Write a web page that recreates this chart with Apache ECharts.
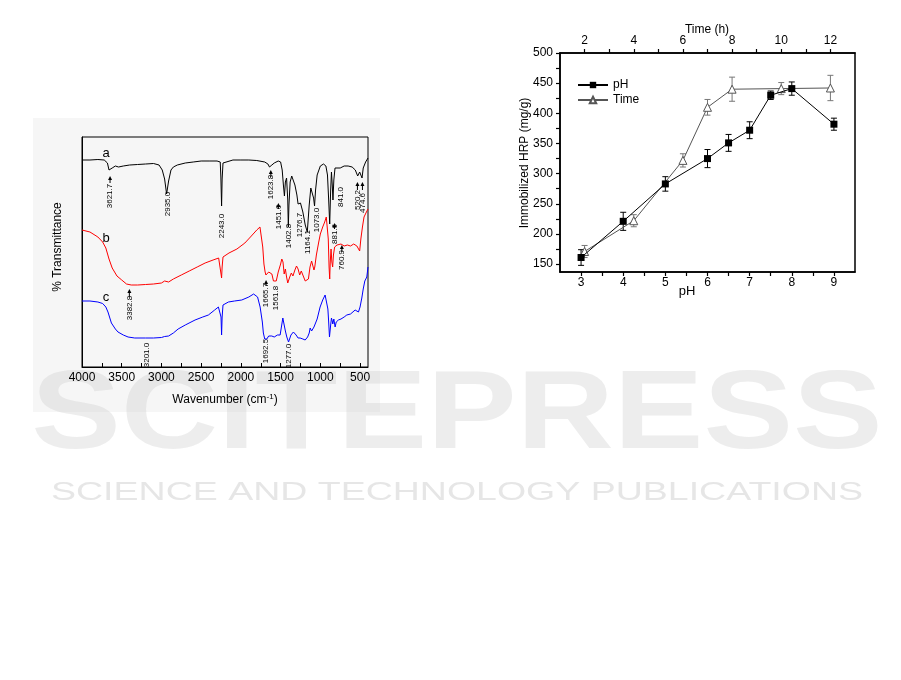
<!DOCTYPE html>
<html><head><meta charset="utf-8">
<script src="https://cdn.jsdelivr.net/npm/echarts@6/dist/echarts.min.js"></script>
<style>html,body{margin:0;padding:0;background:#fff}#c{width:901px;height:680px}</style>
</head><body><div id="c"></div>
<script>
// ---------- FTIR spectra (wavenumber, relative transmittance) ----------
const wnA=[4000,3900,3800,3720,3680,3660,3645,3620,3580,3540,3480,3400,3300,3200,3100,3030,2990,2960,2935,2910,2880,2850,2800,2700,2600,2500,2400,2300,2260,2252,2243,2236,2225,2200,2100,2000,1900,1800,1700,1660,1640,1624,1610,1580,1530,1500,1480,1465,1452,1440,1425,1410,1403,1395,1380,1360,1340,1320,1295,1280,1270,1250,1220,1190,1164,1140,1120,1100,1085,1073,1060,1040,1000,960,930,910,895,882,870,860,850,841,830,815,790,750,700,650,600,560,530,520,505,490,475,460,430,400];
const tA=[207,207,207.5,207,204,197,195,199,201,200,201,202,202.5,203,203.5,202,197,188,173,186,197,200,202,204,205,206,206,206,205,190,161,188,204,206,207,207,207,206.5,205,203,200,198,202,204,206,205,197,182,171,185,189,167,140,162,185,191,190,182,172,163,162,164,155,142,135,162,179,177,169,161,177,192,201,203,201,192,167,143,177,195,182,167,187,199,201,199,201,201,200,197,191,189,195,193,189,199,205,209];
const wnB=[4000,3900,3800,3740,3700,3660,3620,3560,3500,3440,3380,3300,3200,3100,3000,2960,2935,2910,2850,2750,2650,2550,2450,2350,2280,2255,2248,2243,2236,2225,2150,2050,1950,1880,1800,1760,1740,1725,1710,1695,1685,1675,1665,1650,1630,1610,1590,1570,1555,1530,1500,1485,1470,1455,1440,1425,1410,1400,1385,1365,1345,1320,1300,1280,1260,1240,1220,1190,1170,1150,1130,1110,1095,1080,1070,1050,1020,1000,970,945,925,910,900,890,882,875,865,855,845,835,820,800,790,770,740,700,660,620,580,540,520,505,490,470,450,420,400];
const tB=[137,135,130,125,119,108,99,91,87,83,82,82,82.5,83,84,86,84,85,88,92,96,100,104,107,109,108,92,89,100,110,114,118,124,130,137,140,138,120,103,95,92,94,90,95,97,93,86,84,86,95,103,108,105,93,98,90,84,82,90,94,91,97,101,98,92,96,92,86,84,88,100,106,104,97,100,112,125,133,140,145,150,148,128,100,88,105,118,105,100,112,120,118,122,120,123,121,122,121,123,121,119,116,128,140,150,155,158];
const wnC=[4000,3900,3800,3740,3700,3673,3630,3580,3547,3480,3420,3336,3200,3100,3000,2960,2935,2910,2850,2790,2700,2577,2480,2409,2330,2283,2260,2250,2243,2236,2225,2157,2080,1989,1900,1840,1821,1790,1758,1730,1717,1700,1692,1674,1650,1611,1580,1540,1506,1490,1472,1455,1440,1422,1400,1389,1370,1339,1320,1305,1280,1254,1220,1191,1160,1140,1128,1110,1094,1080,1065,1040,1003,970,940,920,905,895,885,877,870,860,850,843,830,814,800,772,740,700,667,620,562,540,520,500,478,460,440,415,400];
const tC=[66,66,65,63.5,60,55,44,38,35,32,30,29,29,29,29.5,30.5,29.5,31,34,38,42,47,50,52,57,60,61,50,32,50,62,65,66,67,70,73,74,70,60,45,34,28,27,28,31,31,30,32,32,40,49,42,36,30,25,26,32,35,34,32,29,29,28,27,30,34,39,36,35,40,42,48,60,67,72,70,58,45,30,29,42,49,46,43,48,40,45,47,48,50,52,53,57,58,55,60,69,78,86,90,100];
const ftirTicks=[4000,3500,3000,2500,2000,1500,1000,500];
const ftirMinor=[3750,3250,2750,2250,1750,1250,750];

// peak annotations
const annText=['3621.7','2935.0','2243.0','1623.8','1451.6','1402.8','1276.7','1164.1','1073.0','841.0','881.6','520.2','474.6','3382.8','1665.7','1561.8','760.9','3201.0','1692.5','1277.0'];
const annWn=[3647,2921,2246,1623,1528,1397,1254,1157,1044,738,822,533,470,3404,1683,1557,729,3185,1683,1397];
const annV=[171,163,141,180,150,131,142,125,147,170,133,167,164,59,72,69,107,12,16,11];
const arrowWn=[3647,1623,1528,822,533,470,3404,1683,729];
const arrowTail=[184,190,158,138,177,177,70,81,115];
const arrowTip=[191,197,164,144,185,185,78,87,122];
const curveNames=['a','b','c'];
const curveNameWn=[3698,3698,3698];
const curveNameV=[214,129,70];

// ---------- Immobilized HRP ----------
const phX=[3,4,5,6,6.5,7,7.5,8,9];
const phY=[161,221,283,325,351,372,430,441,382];
const phErr=[13,15,12,15,14,14,7,11,10];
const timeX=[2,4,6,7,8,10,12];
const timeY=[171,222,322,410,440,441,442];
const timeErr=[10,10,11,13,20,10,21];
const hrpTicks=[150,200,250,300,350,400,450,500];
const hrpTickAll=[150,175,200,225,250,275,300,325,350,375,400,425,450,475,500];
const phTicks=[3,4,5,6,7,8,9];
const phTickAll=[3,3.5,4,4.5,5,5.5,6,6.5,7,7.5,8,8.5,9];
const timeTicks=[2,4,6,8,10,12];
const timeTickAll=[2,3,4,5,6,7,8,9,10,11,12];

const zip=(a,b)=>a.map((v,i)=>[v,b[i]]);
const FONT='Arial';
const plain=v=>String(v);

function errRender(color){
  return function(params,api){
    const x=api.value(0),y=api.value(1),e=api.value(2);
    const hi=api.coord([x,y+e]),lo=api.coord([x,y-e]);
    const w=3, st={stroke:color,lineWidth:1};
    return {type:'group',children:[
      {type:'line',shape:{x1:hi[0],y1:hi[1],x2:lo[0],y2:lo[1]},style:st},
      {type:'line',shape:{x1:hi[0]-w,y1:hi[1],x2:hi[0]+w,y2:hi[1]},style:st},
      {type:'line',shape:{x1:lo[0]-w,y1:lo[1],x2:lo[0]+w,y2:lo[1]},style:st}
    ]};
  };
}

const chart=echarts.init(document.getElementById('c'),null,{renderer:'canvas'});
chart.setOption({
  animation:false,
  backgroundColor:'#fff',
  grid:[
    {left:82,top:137,width:286,height:230,show:true,borderColor:'#000',borderWidth:1,backgroundColor:'transparent',containLabel:false},
    {left:560,top:53,width:295,height:219,show:true,borderColor:'#000',borderWidth:1.5,backgroundColor:'transparent',containLabel:false}
  ],
  xAxis:[
    {gridIndex:0,type:'value',inverse:true,min:400,max:4000,position:'bottom',
     axisLine:{show:true,lineStyle:{color:'#000',width:1}},
     axisTick:{show:true,inside:true,length:4,customValues:ftirTicks.concat(ftirMinor),lineStyle:{color:'#000'}},
     axisLabel:{show:true,customValues:ftirTicks,formatter:plain,fontSize:12,fontFamily:FONT,color:'#000',margin:5},
     splitLine:{show:false}},
    {gridIndex:1,type:'value',min:2.5,max:9.5,position:'bottom',
     axisLine:{show:true,lineStyle:{color:'#000',width:1.5}},
     axisTick:{show:true,inside:false,length:4,customValues:phTickAll,lineStyle:{color:'#000',width:1.2}},
     axisLabel:{show:true,customValues:phTicks,formatter:plain,fontSize:12,fontFamily:FONT,color:'#000',margin:5},
     splitLine:{show:false}},
    {gridIndex:1,type:'value',min:1,max:13,position:'top',
     axisLine:{show:true,lineStyle:{color:'#000',width:1.5}},
     axisTick:{show:true,inside:false,length:4,customValues:timeTickAll,lineStyle:{color:'#000',width:1.2}},
     axisLabel:{show:true,customValues:timeTicks,formatter:plain,fontSize:12,fontFamily:FONT,color:'#000',margin:6},
     splitLine:{show:false}}
  ],
  yAxis:[
    {gridIndex:0,type:'value',min:0,max:230,
     axisLine:{show:true,lineStyle:{color:'#000'}},axisTick:{show:false},axisLabel:{show:false},splitLine:{show:false}},
    {gridIndex:1,type:'value',min:137,max:500,
     axisLine:{show:true,lineStyle:{color:'#000',width:1.5}},
     axisTick:{show:true,inside:false,length:4,customValues:hrpTickAll,lineStyle:{color:'#000',width:1.2}},
     axisLabel:{show:true,customValues:hrpTicks,formatter:plain,fontSize:12,fontFamily:FONT,color:'#000',margin:7},
     splitLine:{show:false}}
  ],
  legend:{data:['pH','Time'],orient:'vertical',left:572,top:74,itemWidth:30,itemHeight:8,itemGap:3,
    textStyle:{fontSize:12,fontFamily:FONT,color:'#000'}},
  graphic:[
    {type:'rect',z:-10,shape:{x:33,y:118,width:347,height:294},style:{fill:'#f6f6f6'},silent:true},
    {type:'text',z:-5,x:457,y:417,scaleX:1.2,style:{text:'SCITEPRESS',fontSize:112,fontWeight:'bold',fontFamily:FONT,fill:'rgba(200,200,200,0.33)',align:'center',verticalAlign:'middle'},silent:true},
    {type:'text',z:-5,x:457,y:493,scaleX:1.5,style:{text:'SCIENCE AND TECHNOLOGY PUBLICATIONS',fontSize:25,fontFamily:FONT,fill:'rgba(200,200,200,0.45)',align:'center',verticalAlign:'middle'},silent:true},
    {type:'text',x:58,y:247,rotation:Math.PI/2,style:{text:'% Transmittance',fontSize:12,fontFamily:FONT,fill:'#000',align:'center',verticalAlign:'middle'}},
    {type:'text',x:225,y:400,style:{text:'Wavenumber (cm{sup|-1})',fontSize:12,fontFamily:FONT,fill:'#000',align:'center',verticalAlign:'middle',
      rich:{sup:{fontSize:8,fontFamily:FONT,verticalAlign:'top',lineHeight:14}}}},
    {type:'text',x:525,y:163,rotation:Math.PI/2,style:{text:'Immobilized HRP (mg/g)',fontSize:12,fontFamily:FONT,fill:'#000',align:'center',verticalAlign:'middle'}},
    {type:'text',x:687,y:291,style:{text:'pH',fontSize:13,fontFamily:FONT,fill:'#000',align:'center',verticalAlign:'middle'}},
    {type:'text',x:707,y:30,style:{text:'Time (h)',fontSize:12,fontFamily:FONT,fill:'#000',align:'center',verticalAlign:'middle'}}
  ],
  series:[
    {name:'a',type:'line',xAxisIndex:0,yAxisIndex:0,data:zip(wnA,tA),showSymbol:false,symbol:'none',lineStyle:{color:'#000',width:1},silent:true},
    {name:'b',type:'line',xAxisIndex:0,yAxisIndex:0,data:zip(wnB,tB),showSymbol:false,symbol:'none',lineStyle:{color:'#ff0000',width:1},silent:true},
    {name:'c',type:'line',xAxisIndex:0,yAxisIndex:0,data:zip(wnC,tC),showSymbol:false,symbol:'none',lineStyle:{color:'#0000ff',width:1},silent:true},
    {name:'ann',type:'custom',xAxisIndex:0,yAxisIndex:0,data:zip(annWn,annV),silent:true,
     renderItem:(params,api)=>{const p=api.coord([api.value(0),api.value(1)]);
       return {type:'text',x:p[0],y:p[1],rotation:Math.PI/2,style:{text:annText[params.dataIndex],fontSize:8,fontFamily:FONT,fill:'#000',align:'center',verticalAlign:'middle'}};}},
    {name:'arrows',type:'custom',xAxisIndex:0,yAxisIndex:0,data:arrowWn.map((w,i)=>[w,arrowTail[i],arrowTip[i]]),silent:true,
     renderItem:(params,api)=>{const t=api.coord([api.value(0),api.value(1)]),h=api.coord([api.value(0),api.value(2)]);
       return {type:'group',children:[
         {type:'line',shape:{x1:t[0],y1:t[1],x2:h[0],y2:h[1]+2},style:{stroke:'#000',lineWidth:1}},
         {type:'polygon',shape:{points:[[h[0],h[1]],[h[0]-2,h[1]+4],[h[0]+2,h[1]+4]]},style:{fill:'#000'}}]};}},
    {name:'names',type:'custom',xAxisIndex:0,yAxisIndex:0,data:zip(curveNameWn,curveNameV),silent:true,
     renderItem:(params,api)=>{const p=api.coord([api.value(0),api.value(1)]);
       return {type:'text',x:p[0],y:p[1],style:{text:curveNames[params.dataIndex],fontSize:13,fontFamily:FONT,fill:'#000',align:'center',verticalAlign:'middle'}};}},
    {name:'pHerr',type:'custom',xAxisIndex:1,yAxisIndex:1,data:phX.map((x,i)=>[x,phY[i],phErr[i]]),renderItem:errRender('#000'),silent:true,z:1},
    {name:'Timeerr',type:'custom',xAxisIndex:2,yAxisIndex:1,data:timeX.map((x,i)=>[x,timeY[i],timeErr[i]]),renderItem:errRender('#777'),silent:true,z:1},
    {name:'pH',type:'line',xAxisIndex:1,yAxisIndex:1,data:zip(phX,phY),symbol:'rect',symbolSize:7,showSymbol:true,
     lineStyle:{color:'#000',width:1},itemStyle:{color:'#000'},z:3},
    {name:'Time',type:'line',xAxisIndex:2,yAxisIndex:1,data:zip(timeX,timeY),symbol:'triangle',symbolSize:8,showSymbol:true,
     lineStyle:{color:'#555',width:1},itemStyle:{color:'#fff',borderColor:'#555',borderWidth:1},z:2}
  ]
});
</script></body></html>
